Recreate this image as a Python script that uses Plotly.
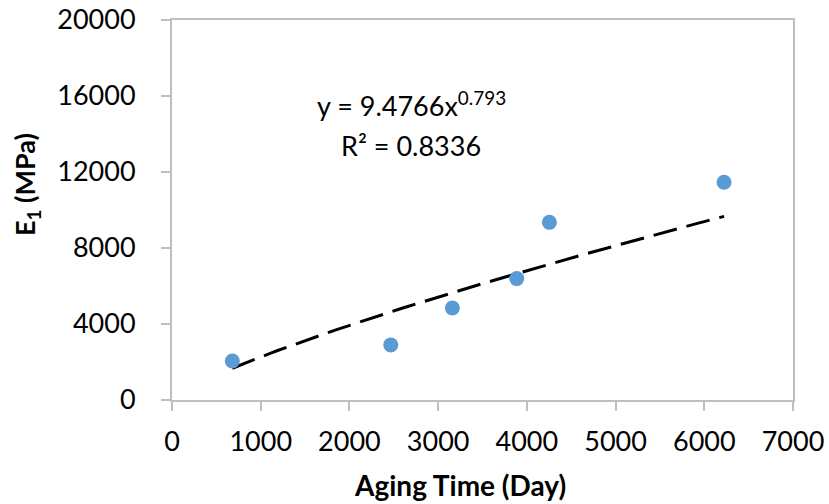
import numpy as np
import plotly.graph_objects as go

# Data
aging_days = [680, 2466, 3160, 3886, 4254, 6223]
e1_mpa = [2050, 2900, 4840, 6390, 9350, 11460]

# Power trendline coefficients shown on chart
coef_a = 9.4766
coef_b = 0.793
eq_text = "y = 9.4766x<sup>0.793</sup>"
r2_text = "R² = 0.8336"
x_title = "<b>Aging Time (Day)</b>"
y_title = "<b>E<sub>1</sub> (MPa)</b>"

x_ticks = [0, 1000, 2000, 3000, 4000, 5000, 6000, 7000]
y_ticks = [0, 4000, 8000, 12000, 16000, 20000]

trend_x = np.linspace(min(aging_days), max(aging_days), 100)
trend_y = coef_a * trend_x ** coef_b

FONT = "Lato"
AXC = "#BFBFBF"
W, H = 829, 504
ML, MR, MT, MB = 172, 36, 20, 104
pw, ph = W - ML - MR, H - MT - MB


def px_x(p):
    return (p - ML) / pw


def px_y(p):
    return (H - MB - p) / ph


fig = go.Figure()
fig.add_trace(go.Scatter(x=trend_x, y=trend_y, mode="lines",
                         line=dict(color="black", width=3, dash="24px,10px"),
                         showlegend=False, hoverinfo="skip"))
fig.add_trace(go.Scatter(x=aging_days, y=e1_mpa, mode="markers",
                         marker=dict(color="#5B9BD5", size=15),
                         showlegend=False))

fig.add_annotation(x=px_x(411), y=px_y(104), xref="paper", yref="paper", text=eq_text,
                   xanchor="center", yanchor="middle",
                   showarrow=False, font=dict(family=FONT, size=27, color="black"))
fig.add_annotation(x=px_x(411), y=px_y(145), xref="paper", yref="paper", text=r2_text,
                   xanchor="center", yanchor="middle",
                   showarrow=False, font=dict(family=FONT, size=27, color="black"))

# axis titles placed as in the reference (not centred on the plot area)
fig.add_annotation(x=px_x(460), y=px_y(485), xref="paper", yref="paper",
                   text=x_title, showarrow=False, xanchor="center", yanchor="middle",
                   font=dict(family=FONT, size=28, color="black"))
fig.add_annotation(x=px_x(26), y=px_y(185), xref="paper", yref="paper",
                   text=y_title, showarrow=False, textangle=-90,
                   xanchor="center", yanchor="middle",
                   font=dict(family=FONT, size=27, color="black"))

fig.update_layout(
    width=W, height=H,
    margin=dict(l=ML, r=MR, t=MT, b=MB),
    plot_bgcolor="white", paper_bgcolor="white",
    font=dict(family=FONT, color="black"),
    xaxis=dict(range=[0, 7000], tickvals=x_ticks, ticktext=[str(v) for v in x_ticks],
               showgrid=False, zeroline=False, showline=True, mirror=True,
               linecolor=AXC, linewidth=2, ticks="outside", ticklen=9,
               tickcolor=AXC, tickwidth=2, tickfont=dict(size=27),
               ticklabelstandoff=8, automargin=False),
    yaxis=dict(range=[0, 20000], tickvals=y_ticks, ticktext=[str(v) for v in y_ticks],
               showgrid=False, zeroline=False, showline=True, mirror=True,
               linecolor=AXC, linewidth=2, ticks="outside", ticklen=9,
               tickcolor=AXC, tickwidth=2, tickfont=dict(size=27),
               ticklabelstandoff=20, automargin=False),
)

fig.write_html("out.html")
